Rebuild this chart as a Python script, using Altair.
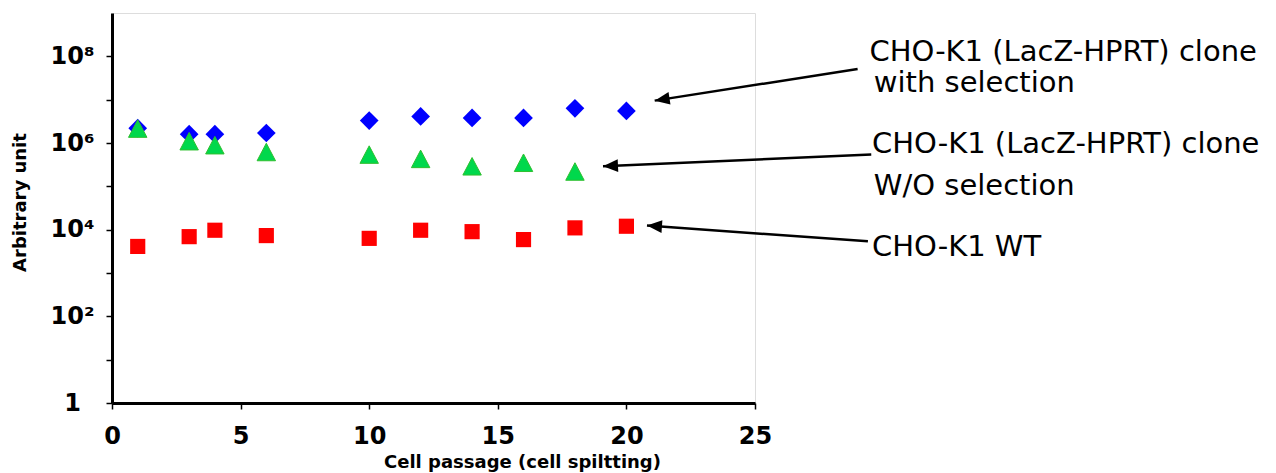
import math
import altair as alt
import pandas as pd

# ---------------- data ----------------
passage_with = [1, 3, 4, 6, 10, 12, 14, 16, 18, 20]
signal_with = [2.2e6, 1.6e6, 1.6e6, 1.7e6, 3.3e6, 4.1e6, 3.8e6, 3.8e6, 6.3e6, 5.5e6]

passage_wo = [1, 3, 4, 6, 10, 12, 14, 16, 18]
signal_wo = [2.15e6, 1.1e6, 8.9e5, 6.2e5, 5.4e5, 4.3e5, 2.9e5, 3.5e5, 2.2e5]

passage_wt = [1, 3, 4, 6, 10, 12, 14, 16, 18, 20]
signal_wt = [4.1e3, 6.9e3, 9.7e3, 7.3e3, 6.3e3, 9.7e3, 9.0e3, 5.9e3, 1.1e4, 1.2e4]

x_ticks = [0, 5, 10, 15, 20, 25]
y_ticks = [1, 10, 100, 1e3, 1e4, 1e5, 1e6, 1e7, 1e8]

# annotation labels, anchored in data units
label_lines = ["CHO-K1 (LacZ-HPRT) clone", "with selection",
               "CHO-K1 (LacZ-HPRT) clone", "W/O selection", "CHO-K1 WT"]
label_x = [29.45, 29.62, 29.55, 29.62, 29.55]
label_y = [7.9e7, 1.5e7, 5.9e5, 6.4e4, 2.5e3]

# arrows: tail (x, y) -> tip (x2, y2), data units
arrow_x = [28.99, 29.52, 29.39]
arrow_y = [5.1e7, 5.4e5, 5.4e3]
arrow_x2 = [21.10, 19.09, 20.80]
arrow_y2 = [9.5e6, 2.9e5, 1.24e4]

# ---------------- layout ----------------
W, H = 643, 390
XMAX, YDEC = 25, 9
FONT = "DejaVu Sans"

def to_px(x, y):
    return x / XMAX * W, H - math.log10(y) / YDEC * H

angles = []
for a, b, c, d in zip(arrow_x, arrow_y, arrow_x2, arrow_y2):
    x1, y1 = to_px(a, b)
    x2, y2 = to_px(c, d)
    ang = math.degrees(math.atan2(y2 - y1, x2 - x1)) - 180.0
    angles.append(ang % 360)

pts_with = pd.DataFrame({"x": passage_with, "y": signal_with})
pts_wo = pd.DataFrame({"x": passage_wo, "y": signal_wo})
pts_wt = pd.DataFrame({"x": passage_wt, "y": signal_wt})
labels = pd.DataFrame({"x": label_x, "y": label_y, "t": label_lines})
arrows = pd.DataFrame({"x": arrow_x, "y": arrow_y, "x2": arrow_x2, "y2": arrow_y2})
heads = pd.DataFrame({"x": arrow_x2, "y": arrow_y2, "a": angles})

ylabel_expr = ("datum.value == 100000000 ? '10⁸' : datum.value == 1000000 ? '10⁶' : "
               "datum.value == 10000 ? '10⁴' : datum.value == 100 ? '10²' : "
               "datum.value == 1 ? '1' : ''")

x_enc = alt.X(
    "x:Q",
    scale=alt.Scale(domain=[0, XMAX], nice=False, zero=False),
    axis=alt.Axis(
        values=x_ticks, title="Cell passage (cell spiltting)", grid=False,
        domainColor="black", domainWidth=3, tickColor="black", tickWidth=1.5, tickSize=6,
        labelFont=FONT, labelFontWeight="bold", labelFontSize=24, labelColor="black",
        labelPadding=15, labelFlush=False,
        titleFont=FONT, titleFontWeight="bold", titleFontSize=18, titleColor="black",
        titleX=410, titleY=59, titleAlign="center", titleBaseline="middle",
    ),
)
y_enc = alt.Y(
    "y:Q",
    scale=alt.Scale(type="log", domain=[1, 1e9], nice=False),
    axis=alt.Axis(
        values=y_ticks, labelExpr=ylabel_expr, title="Arbitrary unit", grid=False,
        domainColor="black", domainWidth=3, tickColor="black", tickWidth=1.5, tickSize=6,
        labelFont=FONT, labelFontWeight="bold", labelFontSize=24, labelColor="black",
        labelAlign="center", labelBaseline="middle", labelPadding=34, labelFlush=False,
        titleFont=FONT, titleFontWeight="bold", titleFontSize=18, titleColor="black",
        titleX=-92, titleY=189, titleAlign="center", titleBaseline="middle", titleAngle=270,
    ),
)

TRI = "M0,-0.95L1,0.95L-1,0.95Z"
HEAD = "M0,0L2,-0.85L2,0.85Z"

blue = alt.Chart(pts_with).mark_point(
    shape="diamond", filled=True, color="#0000FF", size=350, opacity=1
).encode(x=x_enc, y=y_enc)

green = alt.Chart(pts_wo).mark_point(
    shape=TRI, filled=True, fill="#00D84C", stroke="#2FBF2F", strokeWidth=1,
    size=340, opacity=1
).encode(x=x_enc, y=y_enc)

red = alt.Chart(pts_wt).mark_point(
    shape="square", filled=True, color="#FF0000", size=230, opacity=1
).encode(x=x_enc, y=y_enc)

arrow_lines = alt.Chart(arrows).mark_rule(color="black", strokeWidth=2.5).encode(
    x=x_enc, y=y_enc, x2="x2:Q", y2="y2:Q"
)

arrow_heads = alt.Chart(heads).mark_point(
    shape=HEAD, filled=True, color="black", size=225, opacity=1
).encode(x=x_enc, y=y_enc, angle=alt.Angle("a:Q", scale=None))

texts = alt.Chart(labels).mark_text(
    align="left", baseline="alphabetic", font=FONT, fontSize=29, color="black"
).encode(x=x_enc, y=y_enc, text="t:N")

chart = alt.layer(blue, green, red, arrow_lines, arrow_heads, texts).properties(
    width=W, height=H,
    autosize=alt.AutoSizeParams(type="none"),
    padding={"left": 104, "top": 5, "right": 505, "bottom": 70},
).configure_view(stroke=None).configure(background="white")

chart.save("out.html", embed_options={"renderer": "svg", "actions": False})
